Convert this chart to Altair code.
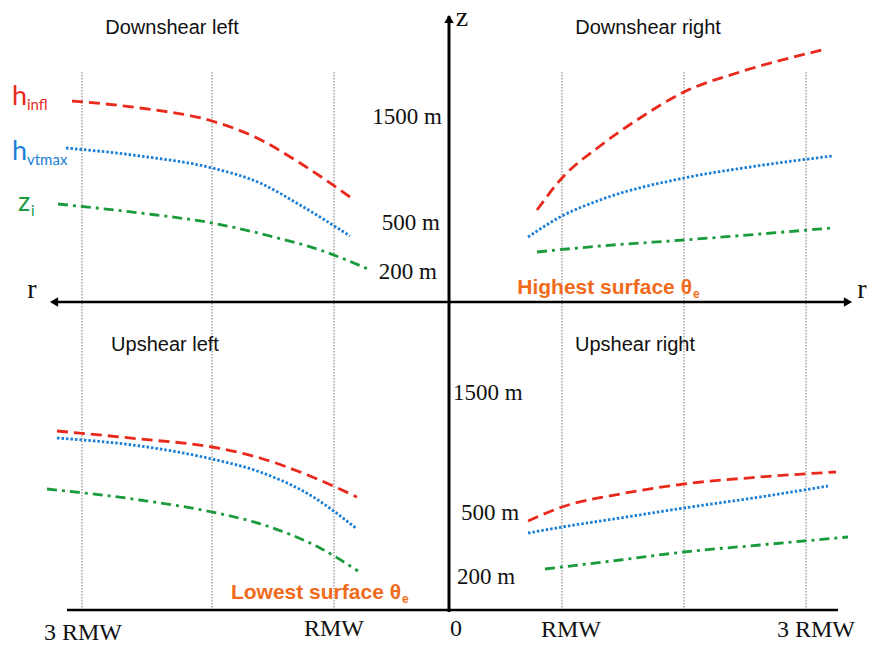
import altair as alt
import pandas as pd

W, H = 869, 647

RED = "#e8291c"
BLUE = "#1b7fd6"
GREEN = "#1a9b3c"
ORANGE = "#f26a1b"
GRID = "#8a8a8a"

# Schematic canvas: x to the right, y downwards (0..W, 0..H)

# Radial guides at 3 RMW, 2 RMW and RMW on both sides of the centre
guide_x = [82, 212, 334, 562, 684, 806]
guide_top, guide_bottom = 72, 610

# Axes
z_axis_x = 449
z_axis_top, z_axis_bottom = 16, 612
r_axis_y = 302
r_axis_left, r_axis_right = 54, 848
base_y = 610
base_left, base_right = 67, 838

# Height curves per quadrant --------------------------------------------
# Downshear left
dl_hinfl_x = [72, 140, 212, 255, 300, 350]
dl_hinfl_y = [101, 108, 121, 137, 163, 197]
dl_hvt_x = [66, 140, 212, 260, 300, 350]
dl_hvt_y = [148, 156, 168, 183, 205, 236]
dl_zi_x = [58, 140, 212, 270, 320, 368]
dl_zi_y = [204, 213, 223, 236, 250, 269]
# Downshear right
dr_hinfl_x = [537, 562, 600, 640, 684, 740, 822]
dr_hinfl_y = [210, 178, 146, 118, 92, 72, 50]
dr_hvt_x = [528, 562, 600, 684, 750, 832]
dr_hvt_y = [237, 216, 200, 178, 167, 156]
dr_zi_x = [537, 600, 684, 760, 832]
dr_zi_y = [252, 246, 240, 234, 228]
# Upshear left
ul_hinfl_x = [57, 140, 212, 260, 310, 357]
ul_hinfl_y = [431, 439, 447, 458, 476, 497]
ul_hvt_x = [57, 140, 212, 260, 310, 357]
ul_hvt_y = [438, 446, 459, 472, 495, 529]
ul_zi_x = [47, 140, 212, 270, 320, 358]
ul_zi_y = [489, 500, 512, 527, 548, 571]
# Upshear right
ur_hinfl_x = [528, 562, 620, 684, 760, 836]
ur_hinfl_y = [521, 507, 494, 484, 477, 472]
ur_hvt_x = [528, 562, 620, 684, 760, 828]
ur_hvt_y = [533, 527, 518, 508, 497, 486]
ur_zi_x = [545, 620, 684, 760, 848]
ur_zi_y = [569, 560, 552, 545, 537]

# Text -----------------------------------------------------------------
quad_titles = ["Downshear  left", "Downshear  right", "Upshear left", "Upshear right"]
quad_title_x = [172, 648, 165, 635]
quad_title_y = [28, 28, 345, 345]

height_labels_top = ["1500 m", "500 m", "200 m"]
height_top_x = [442, 440, 437]
height_top_y = [117, 223, 272]
height_labels_bottom = ["1500 m", "500 m", "200 m"]
height_bottom_x = [453, 461, 457]
height_bottom_y = [393, 513, 577]

radius_labels = ["3 RMW", "RMW", "0", "RMW", "3 RMW"]
radius_x = [83, 334, 456, 571, 816]
radius_y = [633, 629, 629, 630, 630]

axis_labels = ["r", "r", "z"]
axis_label_x = [32, 862, 462]
axis_label_y = [290, 290, 18]

legend_main = ["h", "h", "z"]
legend_sub = ["infl", "vtmax", "i"]
legend_colors = [RED, BLUE, GREEN]
legend_x = [12, 12, 18]
legend_y = [105, 160, 211]
legend_sub_x = [27, 27, 31]

theta_labels = ["Highest surface θ", "Lowest surface θ"]
theta_end_x = [692, 401]
theta_y = [294, 599]

xs = alt.Scale(domain=[0, W], range=[0, W])
ys = alt.Scale(domain=[0, H], range=[0, H])
X = lambda f="x": alt.X(f"{f}:Q", scale=xs, axis=None)
Y = lambda f="y": alt.Y(f"{f}:Q", scale=ys, axis=None)


def curves(parts):
    rows = []
    for name, xv, yv in parts:
        for a, b in zip(xv, yv):
            rows.append({"seg": name, "x": a, "y": b})
    return pd.DataFrame(rows)


def line_layer(parts, color, dash, width):
    return alt.Chart(curves(parts)).mark_line(
        color=color, strokeDash=dash, strokeWidth=width, interpolate="monotone"
    ).encode(x=X(), y=Y(), detail="seg:N")


red = line_layer([("dl", dl_hinfl_x, dl_hinfl_y), ("dr", dr_hinfl_x, dr_hinfl_y),
                  ("ul", ul_hinfl_x, ul_hinfl_y), ("ur", ur_hinfl_x, ur_hinfl_y)],
                 RED, [11, 6], 2.8)
blue = line_layer([("dl", dl_hvt_x, dl_hvt_y), ("dr", dr_hvt_x, dr_hvt_y),
                   ("ul", ul_hvt_x, ul_hvt_y), ("ur", ur_hvt_x, ur_hvt_y)],
                  BLUE, [2.5, 2], 2.8)
green = line_layer([("dl", dl_zi_x, dl_zi_y), ("dr", dr_zi_x, dr_zi_y),
                    ("ul", ul_zi_x, ul_zi_y), ("ur", ur_zi_x, ur_zi_y)],
                   GREEN, [10, 5, 3, 5], 2.8)

guides = alt.Chart(pd.DataFrame({"x": guide_x, "y": guide_top, "y2": guide_bottom})).mark_rule(
    color=GRID, strokeDash=[1.5, 1.5], strokeWidth=1.2
).encode(x=X(), y=Y(), y2="y2:Q")

axes_df = pd.DataFrame({
    "x": [z_axis_x, r_axis_left, base_left],
    "x2": [z_axis_x, r_axis_right, base_right],
    "y": [z_axis_top, r_axis_y, base_y],
    "y2": [z_axis_bottom, r_axis_y, base_y],
    "w": [3, 2.5, 2.5],
})
axes = alt.Chart(axes_df).mark_rule(color="black").encode(
    x=X(), x2="x2:Q", y=Y(), y2="y2:Q", strokeWidth=alt.StrokeWidth("w:Q", scale=None)
)

arrows_df = pd.DataFrame({
    "x": [z_axis_x, r_axis_left, r_axis_right],
    "y": [z_axis_top + 3, r_axis_y, r_axis_y],
    "shape": ["triangle-up", "triangle-left", "triangle-right"],
})
arrows = alt.Chart(arrows_df).mark_point(filled=True, color="black", size=90, opacity=1).encode(
    x=X(), y=Y(), shape=alt.Shape("shape:N", scale=None)
)


def text_layer(texts, xv, yv, align="center", baseline="middle", **style):
    df = pd.DataFrame({"t": texts, "x": xv, "y": yv})
    return alt.Chart(df).mark_text(align=align, baseline=baseline, **style).encode(
        x=X(), y=Y(), text="t:N"
    )


titles = text_layer(quad_titles, quad_title_x, quad_title_y,
                    font="Liberation Sans", fontSize=20, color="#111")
h_top = text_layer(height_labels_top, height_top_x, height_top_y, align="right",
                   font="Liberation Serif", fontSize=23, color="#111")
h_bot = text_layer(height_labels_bottom, height_bottom_x, height_bottom_y, align="left",
                   font="Liberation Serif", fontSize=23, color="#111")
radius = text_layer(radius_labels, radius_x, radius_y,
                    font="Liberation Serif", fontSize=24, color="#111")
axis_txt = text_layer(axis_labels, axis_label_x, axis_label_y,
                      font="Liberation Serif", fontSize=28, color="#111")

legend_layers = []
for m, s, c, lx, ly, sx in zip(legend_main, legend_sub, legend_colors, legend_x, legend_y, legend_sub_x):
    legend_layers.append(text_layer([m], [lx], [ly], align="left", baseline="alphabetic",
                                    font="Lato", fontSize=27, color=c))
    legend_layers.append(text_layer([s], [sx], [ly + 5], align="left", baseline="alphabetic",
                                    font="Lato", fontSize=15, color=c))

theta_main = text_layer(theta_labels, theta_end_x, theta_y, align="right", baseline="alphabetic",
                        font="Liberation Sans", fontSize=21, fontWeight="bold", color=ORANGE)
theta_sub = text_layer(["e", "e"], [x + 1 for x in theta_end_x], [y + 4 for y in theta_y],
                       align="left", baseline="alphabetic",
                       font="Liberation Sans", fontSize=12, fontWeight="bold", color=ORANGE)

chart = alt.layer(
    guides, axes, arrows, red, blue, green,
    titles, h_top, h_bot, radius, axis_txt, *legend_layers, theta_main, theta_sub,
).properties(
    width=W, height=H, padding=0, autosize=alt.AutoSizeParams(type="none")
).configure_view(stroke=None)

chart.save("out.html", embed_options={"renderer": "svg", "actions": False})
